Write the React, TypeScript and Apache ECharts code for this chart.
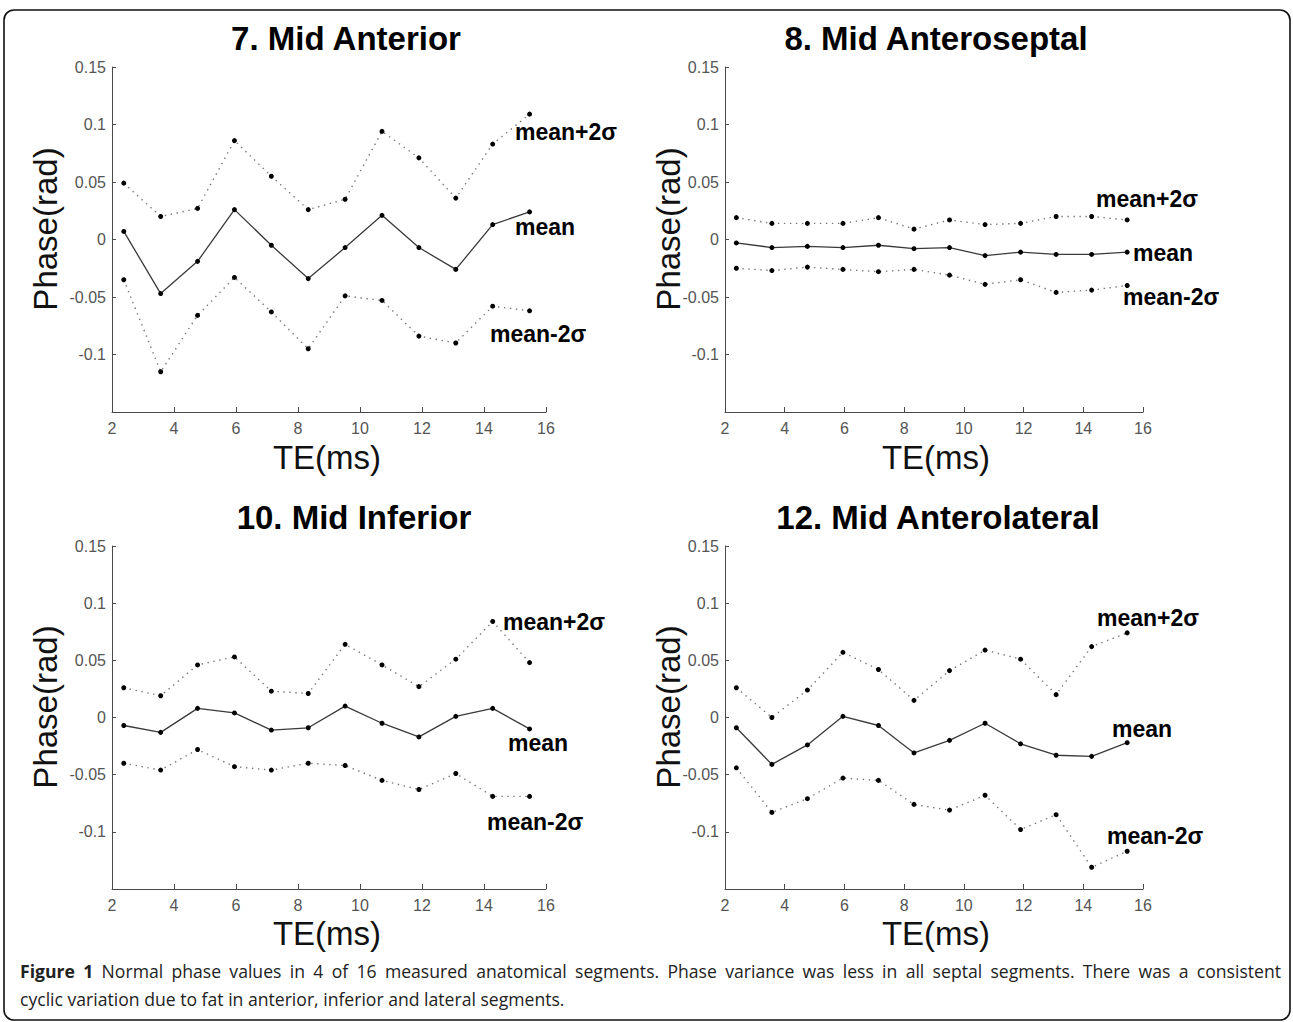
import React, { useEffect, useRef } from "react";
import * as echarts from "echarts";

// ---- data ----
const TE = [2.38, 3.57, 4.76, 5.95, 7.14, 8.33, 9.52, 10.71, 11.9, 13.09, 14.28, 15.47];

const TITLES = ["7. Mid Anterior", "8. Mid Anteroseptal", "10. Mid Inferior", "12. Mid Anterolateral"];

const antUpper = [0.049, 0.020, 0.027, 0.086, 0.055, 0.026, 0.035, 0.094, 0.071, 0.036, 0.083, 0.109];
const antMean = [0.007, -0.047, -0.019, 0.026, -0.005, -0.034, -0.007, 0.021, -0.007, -0.026, 0.013, 0.024];
const antLower = [-0.035, -0.115, -0.066, -0.033, -0.063, -0.095, -0.049, -0.053, -0.084, -0.090, -0.058, -0.062];

const sepUpper = [0.019, 0.014, 0.014, 0.014, 0.019, 0.009, 0.017, 0.013, 0.014, 0.020, 0.020, 0.017];
const sepMean = [-0.003, -0.007, -0.006, -0.007, -0.005, -0.008, -0.007, -0.014, -0.011, -0.013, -0.013, -0.011];
const sepLower = [-0.025, -0.027, -0.024, -0.026, -0.028, -0.026, -0.031, -0.039, -0.035, -0.046, -0.044, -0.040];

const infUpper = [0.026, 0.019, 0.046, 0.053, 0.023, 0.021, 0.064, 0.046, 0.027, 0.051, 0.084, 0.048];
const infMean = [-0.007, -0.013, 0.008, 0.004, -0.011, -0.009, 0.010, -0.005, -0.017, 0.001, 0.008, -0.010];
const infLower = [-0.040, -0.046, -0.028, -0.043, -0.046, -0.040, -0.042, -0.055, -0.063, -0.049, -0.069, -0.069];

const latUpper = [0.026, 0.000, 0.024, 0.057, 0.042, 0.015, 0.041, 0.059, 0.051, 0.020, 0.062, 0.074];
const latMean = [-0.009, -0.041, -0.024, 0.001, -0.007, -0.031, -0.020, -0.005, -0.023, -0.033, -0.034, -0.022];
const latLower = [-0.044, -0.083, -0.071, -0.053, -0.055, -0.076, -0.081, -0.068, -0.098, -0.085, -0.131, -0.117];

const UPPERS = [antUpper, sepUpper, infUpper, latUpper];
const MEANS = [antMean, sepMean, infMean, latMean];
const LOWERS = [antLower, sepLower, infLower, latLower];

const X_TICKS = { min: 2, max: 16, interval: 2 };
const Y_TICKS = { min: -0.15, max: 0.15, interval: 0.05 };

const X_NAME = "TE(ms)";
const Y_NAME = "Phase(rad)";
const LABEL_UP = "mean+2σ";
const LABEL_MEAN = "mean";
const LABEL_LOW = "mean-2σ";

const CAPTION_BOLD = "Figure 1";
const CAPTION_LINE1 =
  "Normal phase values in 4 of 16 measured anatomical segments. Phase variance was less in all septal segments. There was a consistent";
const CAPTION_LINE2 = "cyclic variation due to fat in anterior, inferior and lateral segments.";

// ---- layout ----
const GRIDS = [
  { left: 112, top: 67, width: 434, height: 345 },
  { left: 725, top: 67, width: 418, height: 345 },
  { left: 112, top: 546, width: 434, height: 343 },
  { left: 725, top: 546, width: 418, height: 343 },
];
const TITLE_POS = [
  [346, 38],
  [936, 38],
  [354, 517],
  [938, 517],
];
const XNAME_POS = [
  [327, 457],
  [936, 457],
  [327, 933],
  [936, 933],
];
const YNAME_POS = [
  [45, 229],
  [668, 229],
  [45, 707],
  [668, 707],
];
// end labels: [upper, mean, lower] left-x, center-y
const END_LABEL_POS = [
  [[515, 132], [515, 227], [490, 334]],
  [[1096, 199], [1133, 253], [1123, 297]],
  [[503, 622], [508, 743], [487, 822]],
  [[1097, 618], [1112, 729], [1107, 836]],
];

const SANS = "Liberation Sans, Arial, Helvetica, sans-serif";
const CAP_FONT = "Open Sans, sans-serif";
const CAP_SIZE = 17.6;
const CAP_X = 20;
const CAP_W = 1261;
const CAP_Y1 = 971;
const CAP_Y2 = 999;

function textEl(text: string, x: number, y: number, o: any = {}) {
  return {
    type: "text",
    x,
    y,
    rotation: o.rotation || 0,
    silent: true,
    style: {
      text,
      fontSize: o.fontSize || 14,
      fontFamily: o.fontFamily || SANS,
      fontWeight: o.fontWeight || "normal",
      fill: o.fill || "#111",
      align: o.align || "left",
      textAlign: o.align || "left",
      verticalAlign: "middle",
      textVerticalAlign: "middle",
    },
  };
}

function buildCaption() {
  const els: any[] = [];
  const canvas = document.createElement("canvas");
  const ctx = canvas.getContext("2d") as CanvasRenderingContext2D;
  const measure = (t: string, bold: boolean) => {
    ctx.font = `${bold ? "bold " : ""}${CAP_SIZE}px ${CAP_FONT}`;
    return ctx.measureText(t).width;
  };
  const words: { t: string; b: boolean }[] = [
    ...CAPTION_BOLD.split(" ").map((t) => ({ t, b: true })),
    ...CAPTION_LINE1.split(" ").map((t) => ({ t, b: false })),
  ];
  const widths = words.map((w) => measure(w.t, w.b));
  const total = widths.reduce((a, b) => a + b, 0);
  const gap = Math.max(2, (CAP_W - total) / (words.length - 1));
  let x = CAP_X;
  words.forEach((w, i) => {
    els.push(
      textEl(w.t, x, CAP_Y1, {
        fontSize: CAP_SIZE,
        fontFamily: CAP_FONT,
        fontWeight: w.b ? "bold" : "normal",
        fill: "#222",
      })
    );
    x += widths[i] + gap;
  });
  els.push(
    textEl(CAPTION_LINE2, CAP_X, CAP_Y2, { fontSize: CAP_SIZE, fontFamily: CAP_FONT, fill: "#222" })
  );
  return els;
}

function buildOption() {
  const grid = GRIDS.map((g) => ({ ...g, containLabel: false }));
  const axisColor = "#4a4a4a";
  const xAxis = GRIDS.map((_, i) => ({
    gridIndex: i,
    type: "value",
    min: X_TICKS.min,
    max: X_TICKS.max,
    interval: X_TICKS.interval,
    axisLine: { show: true, onZero: false, lineStyle: { color: axisColor, width: 1 } },
    axisTick: { show: true, inside: true, length: 5, lineStyle: { color: axisColor } },
    axisLabel: { color: "#555", fontSize: 16, fontFamily: SANS, margin: 8 },
    splitLine: { show: false },
  }));
  const yAxis = GRIDS.map((_, i) => ({
    gridIndex: i,
    type: "value",
    min: Y_TICKS.min,
    max: Y_TICKS.max,
    interval: Y_TICKS.interval,
    axisLine: { show: true, onZero: false, lineStyle: { color: axisColor, width: 1 } },
    axisTick: { show: true, inside: true, length: 4, lineStyle: { color: axisColor } },
    axisLabel: {
      color: "#555",
      fontSize: 16,
      fontFamily: SANS,
      margin: 6,
      formatter: (v: number) => (v < -0.149 ? "" : String(+v.toFixed(2))),
    },
    splitLine: { show: false },
  }));
  const series: any[] = [];
  GRIDS.forEach((_, i) => {
    const mk = (arr: number[], solid: boolean, name: string) => ({
      name,
      type: "line",
      xAxisIndex: i,
      yAxisIndex: i,
      data: TE.map((t, k) => [t, arr[k]]),
      symbol: "circle",
      symbolSize: 5,
      showSymbol: true,
      itemStyle: { color: "#000" },
      lineStyle: solid
        ? { color: "#3a3a3a", width: 1.3, type: "solid" }
        : { color: "#777", width: 1.4, type: [1.4, 4.6] },
      silent: true,
      z: solid ? 3 : 2,
    });
    series.push(mk(UPPERS[i], false, LABEL_UP));
    series.push(mk(MEANS[i], true, LABEL_MEAN));
    series.push(mk(LOWERS[i], false, LABEL_LOW));
  });

  const graphic: any[] = [
    {
      type: "rect",
      z: -10,
      silent: true,
      shape: { x: 4, y: 10, width: 1286, height: 1010, r: 10 },
      style: { fill: "none", stroke: "#111", lineWidth: 1.6 },
    },
  ];
  TITLES.forEach((t, i) => {
    graphic.push(
      textEl(t, TITLE_POS[i][0], TITLE_POS[i][1], { fontSize: 33, fontWeight: "bold", align: "center", fill: "#000" })
    );
    graphic.push(textEl(X_NAME, XNAME_POS[i][0], XNAME_POS[i][1], { fontSize: 33, align: "center", fill: "#111" }));
    graphic.push(
      textEl(Y_NAME, YNAME_POS[i][0], YNAME_POS[i][1], {
        fontSize: 33,
        align: "center",
        fill: "#111",
        rotation: Math.PI / 2,
      })
    );
    const labels = [LABEL_UP, LABEL_MEAN, LABEL_LOW];
    labels.forEach((l, k) => {
      const p = END_LABEL_POS[i][k];
      graphic.push(textEl(l, p[0], p[1], { fontSize: 23, fontWeight: "bold", fill: "#000" }));
    });
  });
  graphic.push(...buildCaption());

  return {
    animation: false,
    backgroundColor: "#fff",
    textStyle: { fontFamily: SANS },
    grid,
    xAxis,
    yAxis,
    series,
    graphic,
  };
}

export default function App() {
  const ref = useRef<HTMLDivElement>(null);
  useEffect(() => {
    if (!ref.current) return;
    const chart = echarts.init(ref.current, undefined, { renderer: "svg", width: 1293, height: 1022 });
    chart.setOption(buildOption() as any);
    return () => chart.dispose();
  }, []);
  return (
    <div
      ref={ref}
      style={{ position: "absolute", left: 0, top: 0, width: 1293, height: 1022, background: "#fff" }}
    />
  );
}
